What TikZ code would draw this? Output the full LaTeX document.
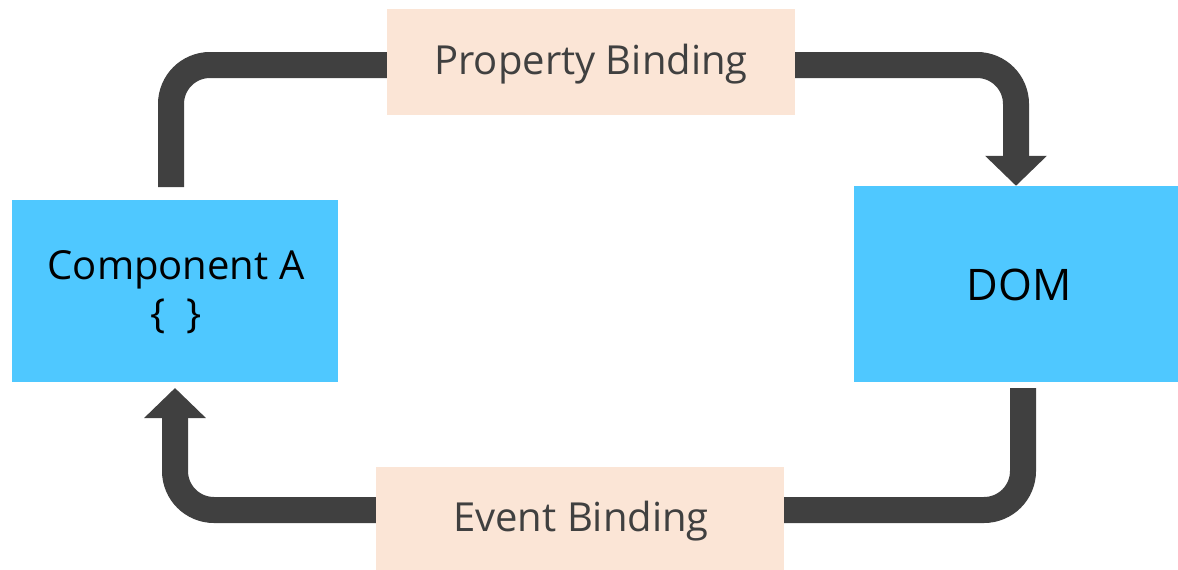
\documentclass[tikz,border=0pt]{standalone}
\usepackage{fontspec}
\setmainfont{Open Sans}
\usetikzlibrary{arrows.meta}
\definecolor{boxblue}{HTML}{4FC8FF}
\definecolor{peach}{HTML}{FBE5D6}
\definecolor{arrowgray}{HTML}{404040}
\definecolor{labelgray}{HTML}{404040}
\tikzset{
  mainbox/.style={fill=boxblue, draw=none, inner sep=0pt, align=center, text=black},
  labelbox/.style={fill=peach, draw=none, inner sep=0pt, text=labelgray, font=\fontsize{40}{48}\selectfont},
  flow/.style={draw=arrowgray, line width=26pt, rounded corners=39pt,
    -{Triangle[width=60pt,length=30pt]}},
}
\begin{document}
\begin{tikzpicture}[x=1pt,y=-1pt]
\useasboundingbox (0,0) rectangle (1178,570);
\node[mainbox, minimum width=326pt, minimum height=182pt] (compA) at (175,291) {};
\node[font=\fontsize{40}{48}\selectfont, align=center, inner sep=0pt] (compAtext) at (176,292) {Component A\\\{\,\,\,\}};
\node[mainbox, minimum width=324pt, minimum height=196pt] (dom) at (1016,284) {};
\node[font=\fontsize{43.5}{50}\selectfont, inner sep=0pt] (domtext) at (1019,285) {DOM};
\coordinate (t0) at (171,187);
\coordinate (t1) at (171,65);
\coordinate (t2) at (1016,65);
\draw[flow] (t0) -- (t1) -- (t2) -- (dom.north);
\coordinate (b0) at (1023,388);
\coordinate (b1) at (1023,510);
\coordinate (b2) at (175,510);
\coordinate (b3) at (175,388);
\draw[flow] (b0) -- (b1) -- (b2) -- (b3);
\node[labelbox, minimum width=408pt, minimum height=106pt] (prop) at (591,62) {};
\node[labelbox, inner sep=0pt] (proptext) at (591,64) {Property Binding};
\node[labelbox, minimum width=408pt, minimum height=103pt] (event) at (580,518.5) {};
\node[labelbox, inner sep=0pt] (eventtext) at (581,521) {Event Binding};
\end{tikzpicture}
\end{document}
